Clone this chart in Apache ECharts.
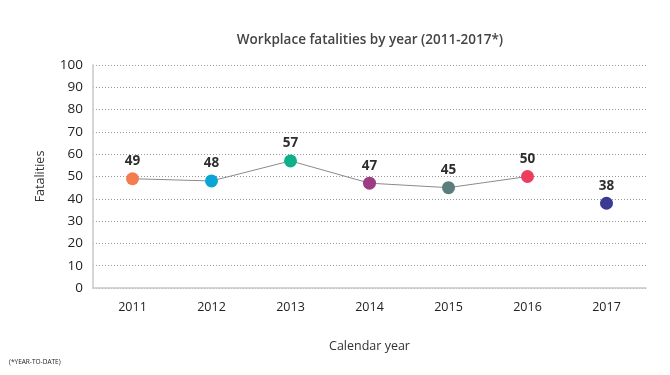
<!DOCTYPE html>
<html>
<head>
<meta charset="utf-8">
<script src="https://cdn.jsdelivr.net/npm/echarts@6/dist/echarts.min.js"></script>
<style>html,body{margin:0;padding:0;background:#fff}#c{width:670px;height:375px}</style>
</head>
<body>
<div id="c"></div>
<script>
var years = ['2011','2012','2013','2014','2015','2016','2017'];
var fatalities = [49, 48, 57, 47, 45, 50, 38];
var connected = [true, true, true, true, true, true, false];
var pointColors = ['#f47c4e','#0aa5d5','#0db089','#9c3d83','#5b7e7d','#ee3b61','#3b3a92'];
var yTicks = [0,10,20,30,40,50,60,70,80,90,100];

var lineData = fatalities.map(function(v,i){ return connected[i] ? v : null; });
var pointData = fatalities.map(function(v,i){ return {value: v, itemStyle: {color: pointColors[i], opacity: 1}}; });

var FONT = '"Open Sans", "Noto Sans", sans-serif';
var chart = echarts.init(document.getElementById('c'));
chart.setOption({
  animation: false,
  title: {
    text: 'Workplace fatalities by year (2011-2017*)',
    left: 365, top: 28, textAlign: 'center',
    textStyle: {fontFamily: FONT, fontSize: 13.5, fontWeight: 600, color: '#444'}
  },
  graphic: [{
    type: 'text', left: 9, top: 359,
    style: {text: '(*YEAR-TO-DATE)', font: '6.5px ' + FONT, fill: '#222'}
  }],
  grid: {left: 93, top: 65, width: 553, height: 223},
  xAxis: {
    type: 'category', data: years, boundaryGap: true,
    name: 'Calendar year', nameLocation: 'middle', nameGap: 52,
    nameTextStyle: {fontFamily: FONT, fontSize: 12.5, color: '#333'},
    axisLine: {lineStyle: {color: '#c8c8c8', width: 1.5}},
    axisTick: {show: false},
    axisLabel: {fontFamily: FONT, fontSize: 12.5, color: '#222', margin: 13}
  },
  yAxis: {
    type: 'value', min: 0, max: 100, interval: 10,
    name: 'Fatalities', nameLocation: 'middle', nameGap: 46, nameRotate: 90,
    nameTextStyle: {fontFamily: FONT, fontSize: 12.5, color: '#333'},
    axisLine: {show: true, lineStyle: {color: '#c8c8c8', width: 1.5}},
    axisTick: {show: false},
    axisLabel: {fontFamily: FONT, fontSize: 13.5, color: '#222', margin: 10,
      formatter: function(v){ return yTicks.indexOf(v) >= 0 ? String(v) : ''; }},
    splitLine: {show: true, lineStyle: {color: '#9a9a9a', type: [1, 2], width: 1}}
  },
  series: [{
    type: 'line', data: lineData, connectNulls: false,
    symbol: 'none', lineStyle: {color: '#8a8a8a', width: 1}, z: 2
  }, {
    type: 'scatter', data: pointData, symbolSize: 13, z: 3,
    label: {show: true, position: 'top', distance: 4,
      fontFamily: FONT, fontSize: 13.5, fontWeight: 'bold', color: '#2e2e2e'}
  }]
});
</script>
</body>
</html>
